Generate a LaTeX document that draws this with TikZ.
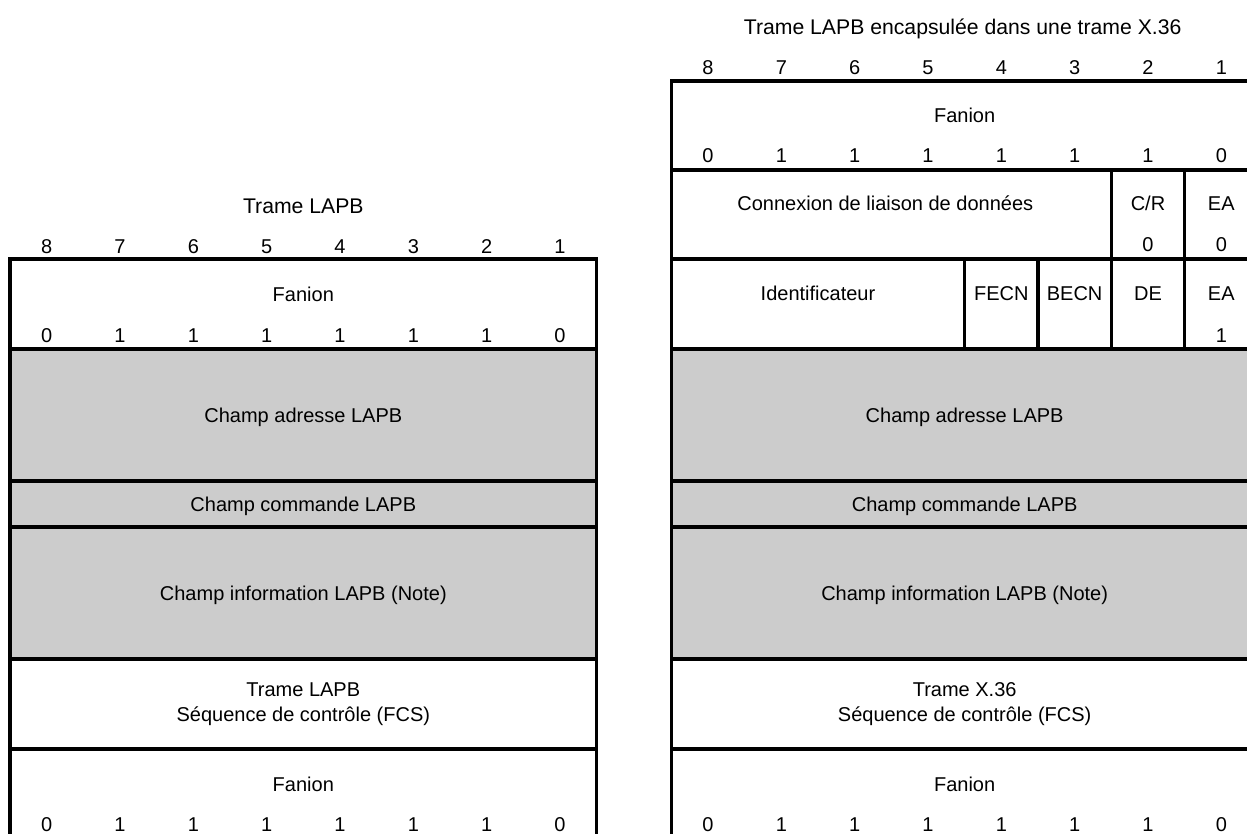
\documentclass[tikz,border=0pt]{standalone}
\usepackage{fontspec}
\setmainfont{Liberation Sans}
\usetikzlibrary{positioning}

\definecolor{cellgray}{RGB}{204,204,204}
\newcommand{\colw}{73.33}
\newcommand{\xL}{10}
\newcommand{\xR}{671.33}

\begin{document}
\begin{tikzpicture}[
    x=0.5pt, y=-0.5pt,
    frameline/.style={line width=1.7pt, draw=black},
    shaded/.style={fill=cellgray},
    txt/.style={font=\fontsize{10}{12.5}\selectfont, inner sep=0pt, anchor=base},
    headtxt/.style={txt, font=\fontsize{10.6}{12.5}\selectfont}
]

% Picture area (both frames run past the right and bottom edges)
\useasboundingbox (0,0) rectangle (1247,834);
\clip (0,0) rectangle (1247,834);

% Gray LAPB fields
\fill[shaded] (\xL,349) rectangle (\xL+8*\colw,659);
\fill[shaded] (\xR,349) rectangle (\xR+8*\colw,659);

% Left frame - Trame LAPB
\draw[frameline] (\xL,259) rectangle (\xL+8*\colw,838);
\foreach \y in {349,481,527,659,749}
    \draw[frameline] (\xL,\y) -- (\xL+8*\colw,\y);

% Right frame - LAPB inside X.36
\draw[frameline] (\xR,81) rectangle (\xR+8*\colw,838);
\foreach \y in {170,259,349,481,527,659,749}
    \draw[frameline] (\xR,\y) -- (\xR+8*\colw,\y);
% Address octet 1: DLCI | C/R | EA
\foreach \c in {6,7}
    \draw[frameline] (\xR+\c*\colw,170) -- (\xR+\c*\colw,259);
% Address octet 2: DLCI | FECN | BECN | DE | EA
\foreach \c in {4,5,6,7}
    \draw[frameline] (\xR+\c*\colw,259) -- (\xR+\c*\colw,349);

% Titles
\node[headtxt] (ltitle) at (\xL+4*\colw,214) {Trame LAPB};
\node[headtxt] (rtitle) at (\xR+4*\colw-2,35) {Trame LAPB encapsulée dans une trame X.36};

% Bit numbers and flag bits
\foreach \n [count=\i] in {8,7,6,5,4,3,2,1} {
    \node[txt] (lcol\i) at (\xL+\i*\colw-\colw/2,254) {\n};
    \node[txt] (rcol\i) at (\xR+\i*\colw-\colw/2,75) {\n};
}
\foreach \b [count=\i] in {0,1,1,1,1,1,1,0} {
    \node[txt] (lflagA\i) at (\xL+\i*\colw-\colw/2,342) {\b};
    \node[txt] (lflagB\i) at (\xL+\i*\colw-\colw/2,831) {\b};
    \node[txt] (rflagA\i) at (\xR+\i*\colw-\colw/2,163) {\b};
    \node[txt] (rflagB\i) at (\xR+\i*\colw-\colw/2,831) {\b};
}

% Left frame fields
\node[txt] (lfanA) at (\xL+4*\colw,301) {Fanion};
\node[txt] (ladr) at (\xL+4*\colw,422) {Champ adresse LAPB};
\node[txt] (lcmd) at (\xL+4*\colw,511) {Champ commande LAPB};
\node[txt] (linfo) at (\xL+4*\colw,600) {Champ information LAPB (Note)};
\node[txt] (lfcsA) at (\xL+4*\colw,696) {Trame LAPB};
\node[txt] (lfcsB) at (\xL+4*\colw,721) {Séquence de contrôle (FCS)};
\node[txt] (lfanB) at (\xL+4*\colw,791) {Fanion};

% Right frame fields
\node[txt] (rfanA) at (\xR+4*\colw,123) {Fanion};
\node[txt] (dlci) at (\xR+3*\colw-6,211) {Connexion de liaison de données};
\node[txt] (cr) at (\xR+6.5*\colw,211) {C/R};
\node[txt] (eaA) at (\xR+7.5*\colw,211) {EA};
\node[txt] (crbit) at (\xR+6.5*\colw,252) {0};
\node[txt] (eaAbit) at (\xR+7.5*\colw,252) {0};
\node[txt] (ident) at (\xR+2*\colw,300) {Identificateur};
\node[txt] (fecn) at (\xR+4.5*\colw,300) {FECN};
\node[txt] (becn) at (\xR+5.5*\colw,300) {BECN};
\node[txt] (de) at (\xR+6.5*\colw,300) {DE};
\node[txt] (eaB) at (\xR+7.5*\colw,300) {EA};
\node[txt] (eaBbit) at (\xR+7.5*\colw,342) {1};
\node[txt] (radr) at (\xR+4*\colw,422) {Champ adresse LAPB};
\node[txt] (rcmd) at (\xR+4*\colw,511) {Champ commande LAPB};
\node[txt] (rinfo) at (\xR+4*\colw,600) {Champ information LAPB (Note)};
\node[txt] (rfcsA) at (\xR+4*\colw,696) {Trame X.36};
\node[txt] (rfcsB) at (\xR+4*\colw,721) {Séquence de contrôle (FCS)};
\node[txt] (rfanB) at (\xR+4*\colw,791) {Fanion};

\end{tikzpicture}
\end{document}
